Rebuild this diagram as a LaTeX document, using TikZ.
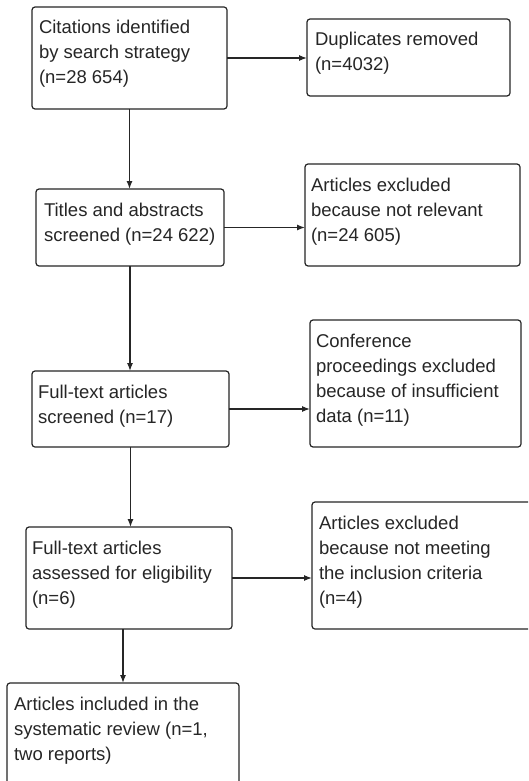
\documentclass[tikz,border=0pt]{standalone}
\usepackage{fontspec}
\setmainfont{Liberation Sans}
\usetikzlibrary{arrows.meta,calc}
\definecolor{linec}{HTML}{262626}
\definecolor{textc}{HTML}{262626}
\newcommand\firstln{\rule{0pt}{18pt}}
\tikzset{
  box/.style={draw=linec, line width=1.2pt, rounded corners=3pt, anchor=north west, inner sep=0pt, outer sep=0pt},
  txt/.style={anchor=north west, align=left, inner sep=0pt, outer sep=0pt, font=\fontsize{18.5}{25}\selectfont, text=textc},
  arr/.style={draw=linec, line width=1.2pt, -{Latex[length=8pt,width=6pt]}}
}
\begin{document}
\begin{tikzpicture}[x=1pt,y=-1pt]
\clip (0,0) rectangle (528,781);
\fill[white] (0,0) rectangle (528,781);
% boxes
\node[box, minimum width=195pt, minimum height=102pt] (b1) at (32,7) {};
\node[box, minimum width=203pt, minimum height=77pt] (b2) at (307,19) {};
\node[box, minimum width=188pt, minimum height=77pt] (b3) at (36,189) {};
\node[box, minimum width=215pt, minimum height=102pt] (b4) at (305,164) {};
\node[box, minimum width=197pt, minimum height=76pt] (b5) at (32,371) {};
\node[box, minimum width=211pt, minimum height=127pt] (b6) at (310,320) {};
\node[box, minimum width=206pt, minimum height=102pt] (b7) at (26,527) {};
\node[box, minimum width=230pt, minimum height=127pt] (b8) at (312,502) {};
\node[box, minimum width=232pt, minimum height=110pt] (b9) at (7,683) {};
% texts
\node[txt] (t1) at ($(b1.north west)+(7,9)$) {\firstln Citations identified\\by search strategy\\(n=28 654)};
\node[txt] (t2) at ($(b2.north west)+(8,9)$) {\firstln Duplicates removed\\(n=4032)};
\node[txt] (t3) at ($(b3.north west)+(8,9)$) {\firstln Titles and abstracts\\screened (n=24 622)};
\node[txt] (t4) at ($(b4.north west)+(6,9)$) {\firstln Articles excluded\\because not relevant\\(n=24 605)};
\node[txt] (t5) at ($(b5.north west)+(6,9)$) {\firstln Full-text articles\\screened (n=17)};
\node[txt] (t6) at ($(b6.north west)+(6,9)$) {\firstln Conference\\proceedings excluded\\because of insufficient\\data (n=11)};
\node[txt] (t7) at ($(b7.north west)+(6,9)$) {\firstln Full-text articles\\assessed for eligibility\\(n=6)};
\node[txt] (t8) at ($(b8.north west)+(7,9)$) {\firstln Articles excluded\\because not meeting\\the inclusion criteria\\(n=4)};
\node[txt] (t9) at ($(b9.north west)+(7,9)$) {\firstln Articles included in the\\systematic review (n=1,\\two reports)};
% connectors
\draw[arr] (b1.east) -- (b1.east -| b2.west);
\draw[arr] (b3.east) -- (b3.east -| b4.west);
\draw[arr] (b5.east) -- (b5.east -| b6.west);
\draw[arr] (b7.east) -- (b7.east -| b8.west);
\draw[arr] (b1.south) -- (b1.south |- b3.north);
\draw[arr] (b3.south) -- (b3.south |- b5.north);
\draw[arr] (b5.south) -- (b5.south |- b7.north);
\draw[arr] (b9.north |- b7.south) -- (b9.north);
\end{tikzpicture}
\end{document}
